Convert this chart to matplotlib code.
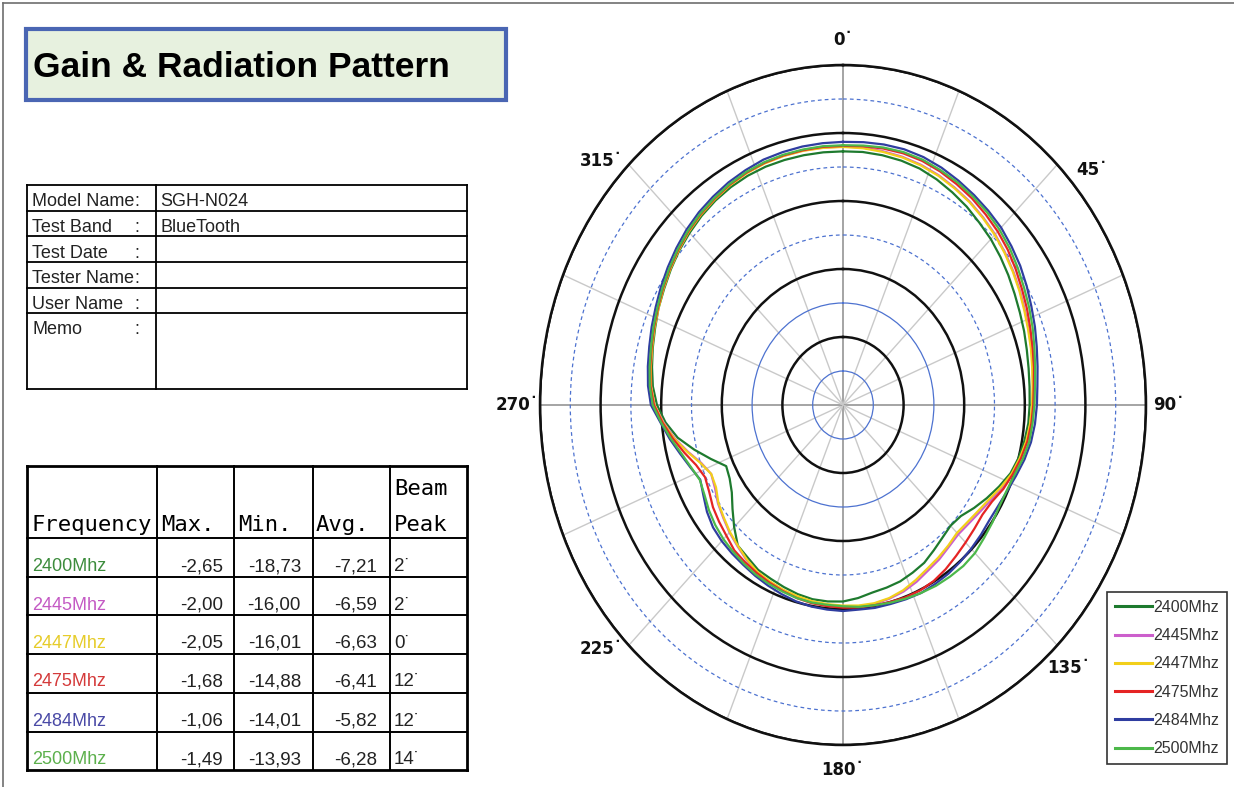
import numpy as np
import matplotlib
matplotlib.use('Agg')
import matplotlib.pyplot as plt
from matplotlib.lines import Line2D
from matplotlib.patches import Rectangle
from matplotlib import font_manager

W, H = 1234, 787

# ---------------- data ----------------
angles_deg = np.arange(0, 360, 5)

freqs = ['2400Mhz', '2445Mhz', '2447Mhz', '2475Mhz', '2484Mhz', '2500Mhz']
line_colors = ['#1e7a2e', '#cc5fcc', '#f2cf1a', '#e52424', '#2f3da0', '#4cb84a']
text_colors = ['#3c8c3c', '#c45ac4', '#e6cc2a', '#d43a3a', '#4a4aa6', '#5cb04c']

gain_2400 = [-2.7, -2.65, -2.7, -2.8, -3.0, -3.4, -3.9, -4.4, -5.0, -5.5,
             -6.1, -6.7, -7.3, -7.8, -8.2, -8.6, -8.9, -9.1, -9.2, -9.3,
             -9.6, -10.0, -10.6, -11.6, -12.6, -13.6, -14.6, -14.9, -14.5, -13.9,
             -13.2, -12.8, -12.4, -12.2, -12.0, -11.5, -11.1, -11.0, -11.0, -11.2,
             -11.5, -11.8, -12.0, -12.6, -13.0, -14.6, -16.2, -17.6, -18.4, -18.73,
             -16.8, -14.6, -12.3, -10.6, -9.3, -8.5, -8.0, -7.5, -7.0, -6.4,
             -5.9, -5.3, -4.7, -4.2, -3.7, -3.3, -3.0, -2.8, -2.7, -2.7,
             -2.7, -2.7]
gain_2445 = [-2.0, -2.0, -2.1, -2.2, -2.4, -2.7, -3.1, -3.5, -4.0, -4.5,
             -5.1, -5.7, -6.3, -6.9, -7.4, -7.8, -8.2, -8.5, -8.7, -8.9,
             -9.2, -9.7, -10.3, -11.1, -11.9, -12.5, -12.9, -13.1, -12.8, -12.3,
             -11.9, -11.3, -10.8, -10.5, -10.3, -10.3, -10.4, -10.5, -10.6, -10.8,
             -11.0, -11.3, -11.6, -12.2, -12.9, -13.5, -14.2, -14.8, -15.6, -16.0,
             -15.1, -13.5, -11.8, -10.3, -8.9, -8.2, -7.8, -7.3, -6.8, -6.3,
             -5.7, -5.1, -4.5, -3.9, -3.4, -3.0, -2.6, -2.3, -2.1, -2.05,
             -2.0, -2.0]
gain_2447 = [-2.05, -2.1, -2.2, -2.3, -2.5, -2.8, -3.2, -3.6, -4.1, -4.6,
             -5.2, -5.8, -6.4, -7.0, -7.5, -7.9, -8.3, -8.6, -8.8, -9.0,
             -9.3, -9.8, -10.4, -11.3, -12.2, -12.8, -13.2, -13.4, -13.0, -12.6,
             -12.2, -11.6, -11.0, -10.6, -10.4, -10.4, -10.5, -10.6, -10.7, -10.9,
             -11.1, -11.4, -11.7, -12.3, -13.0, -13.6, -14.3, -14.9, -15.8, -16.01,
             -15.0, -13.4, -11.7, -10.2, -8.9, -8.2, -7.8, -7.4, -6.9, -6.4,
             -5.8, -5.2, -4.6, -4.0, -3.5, -3.1, -2.7, -2.4, -2.2, -2.1,
             -2.05, -2.05]
gain_2475 = [-1.9, -1.8, -1.7, -1.68, -1.8, -2.1, -2.5, -2.9, -3.4, -3.9,
             -4.5, -5.2, -5.9, -6.5, -7.1, -7.6, -8.0, -8.4, -8.6, -8.8,
             -9.1, -9.6, -10.2, -10.8, -11.6, -11.9, -11.7, -11.4, -11.0, -10.5,
             -10.1, -9.9, -9.9, -10.0, -10.1, -10.1, -10.2, -10.3, -10.4, -10.6,
             -10.9, -11.2, -11.5, -11.8, -12.1, -12.8, -13.3, -13.8, -14.5, -14.88,
             -14.2, -12.9, -11.5, -10.1, -8.8, -8.1, -7.7, -7.3, -6.8, -6.3,
             -5.7, -5.1, -4.5, -3.9, -3.4, -3.0, -2.6, -2.3, -2.1, -2.0,
             -1.95, -1.9]
gain_2484 = [-1.3, -1.2, -1.1, -1.06, -1.2, -1.5, -1.9, -2.3, -2.7, -3.1,
             -3.7, -4.3, -5.0, -5.7, -6.3, -6.9, -7.4, -7.8, -8.0, -8.2,
             -8.5, -9.0, -9.6, -10.1, -10.4, -10.5, -10.3, -10.1, -9.9, -9.7,
             -9.6, -9.5, -9.6, -9.7, -9.7, -9.8, -9.7, -9.8, -9.9, -10.1,
             -10.4, -10.7, -11.0, -11.3, -11.5, -11.7, -12.0, -12.6, -13.4, -14.01,
             -13.2, -12.2, -11.0, -9.8, -8.3, -7.7, -7.3, -6.9, -6.4, -5.9,
             -5.3, -4.7, -4.1, -3.5, -3.0, -2.6, -2.2, -1.9, -1.6, -1.5,
             -1.4, -1.35]
gain_2500 = [-1.8, -1.7, -1.55, -1.49, -1.6, -1.9, -2.2, -2.6, -3.0, -3.5,
             -4.1, -4.8, -5.5, -6.1, -6.7, -7.3, -7.8, -8.2, -8.4, -8.6,
             -8.8, -9.3, -9.9, -10.2, -10.2, -9.9, -9.6, -9.2, -9.1, -9.2,
             -9.3, -9.5, -9.7, -9.9, -10.1, -10.2, -10.4, -10.5, -10.5, -10.6,
             -10.8, -11.0, -11.2, -11.5, -11.8, -12.1, -12.5, -13.0, -13.6, -13.93,
             -13.3, -12.4, -11.2, -9.9, -8.6, -8.0, -7.6, -7.2, -6.7, -6.2,
             -5.6, -5.0, -4.4, -3.8, -3.3, -2.9, -2.5, -2.2, -2.0, -1.9,
             -1.85, -1.8]
series = [gain_2400, gain_2445, gain_2447, gain_2475, gain_2484, gain_2500]

max_vals = [-2.65, -2.00, -2.05, -1.68, -1.06, -1.49]
min_vals = [-18.73, -16.00, -16.01, -14.88, -14.01, -13.93]
avg_vals = [-7.21, -6.59, -6.63, -6.41, -5.82, -6.28]
beam_peak = [2, 2, 0, 12, 12, 14]

info_labels = ['Model Name', 'Test Band', 'Test Date', 'Tester Name', 'User Name', 'Memo']
info_values = ['SGH-N024', 'BlueTooth', '', '', '', '']

r_ticks = np.arange(-35, 11, 5)
theta_ticks_deg = np.arange(0, 360, 22.5)
angle_labels = [0, 45, 90, 135, 180, 225, 270, 315]

# ---------------- fonts ----------------
names = {f.name for f in font_manager.fontManager.ttflist}
NARROW = 'Liberation Sans Narrow' if 'Liberation Sans Narrow' in names else 'Liberation Sans'
SANS = 'Liberation Sans'
MONO = 'DejaVu Sans Mono'

fig = plt.figure(figsize=(W / 100, H / 100), dpi=100)
fig.patch.set_facecolor('white')


def fx(x):
    return x / W


def fy(y):
    return 1 - y / H


def hline(x0, x1, y, lw=1.2, color='black'):
    fig.add_artist(Line2D([fx(x0), fx(x1)], [fy(y), fy(y)], transform=fig.transFigure,
                          color=color, lw=lw, solid_capstyle='projecting'))


def vline(x, y0, y1, lw=1.2, color='black'):
    fig.add_artist(Line2D([fx(x), fx(x)], [fy(y0), fy(y1)], transform=fig.transFigure,
                          color=color, lw=lw, solid_capstyle='projecting'))


# page border
hline(3, 1234, 3, lw=1.2, color='#6e6e6e')
vline(3, 3, 787, lw=1.2, color='#6e6e6e')

# ---------------- title box ----------------
fig.add_artist(Rectangle((fx(25.5), fy(99.5)), (506 - 25.5) / W, (99.5 - 29.5) / H,
                         transform=fig.transFigure, facecolor='#e7f1df',
                         edgecolor='#4a66b3', lw=3.0))
title_size = 30 if NARROW != SANS else 25.5
fig.text(fx(33), fy(77), 'Gain & Radiation Pattern', family=NARROW, fontweight='bold',
         fontsize=title_size, ha='left', va='baseline', color='black')

# ---------------- info table ----------------
info_x = [27, 156, 467]
info_y = [185, 210.5, 236, 261.5, 287.5, 312.5, 389]
for y in info_y:
    hline(info_x[0], info_x[-1], y, lw=1.3)
for x in info_x:
    vline(x, info_y[0], info_y[-1], lw=1.3)
for i, (lab, val) in enumerate(zip(info_labels, info_values)):
    base = info_y[i] + 21.5 if i < 5 else info_y[i] + 22
    fig.text(fx(32), fy(base), lab, family=SANS, fontsize=13, ha='left', va='baseline', color='#222')
    fig.text(fx(139.5), fy(base), ':', family=SANS, fontsize=13, ha='right', va='baseline', color='#222')
    if val:
        fig.text(fx(160), fy(base), val, family=SANS, fontsize=13, ha='left', va='baseline', color='#222')

# ---------------- frequency table ----------------
col_x = [27, 157, 234.5, 312.5, 390, 467]
row_y = [466, 538, 576.5, 615, 653.5, 692.5, 731.5, 770]
for j, y in enumerate(row_y):
    lw = 2.0 if j in (0, len(row_y) - 1) else 1.4
    hline(col_x[0], col_x[-1], y, lw=lw)
for j, x in enumerate(col_x):
    lw = 2.0 if j in (0, len(col_x) - 1) else 1.4
    vline(x, row_y[0], row_y[-1], lw=lw)
hdr_base = 531
hdr_kw = dict(family=MONO, fontsize=16, ha='left', va='baseline', color='black')
fig.text(fx(31), fy(hdr_base), 'Frequency', **hdr_kw)
fig.text(fx(161), fy(hdr_base), 'Max.', **hdr_kw)
fig.text(fx(238.5), fy(hdr_base), 'Min.', **hdr_kw)
fig.text(fx(316), fy(hdr_base), 'Avg.', **hdr_kw)
fig.text(fx(394), fy(495), 'Beam', **hdr_kw)
fig.text(fx(394), fy(hdr_base), 'Peak', **hdr_kw)


def fmt(v):
    return f'{v:.2f}'.replace('.', ',')


for i in range(len(freqs)):
    base = row_y[i + 1] + 33
    fig.text(fx(32), fy(base), freqs[i], family=SANS, fontsize=13, ha='left', va='baseline', color=text_colors[i])
    fig.text(fx(223), fy(base), fmt(max_vals[i]), family=SANS, fontsize=13.5, ha='right', va='baseline', color='#222')
    fig.text(fx(301), fy(base), fmt(min_vals[i]), family=SANS, fontsize=13.5, ha='right', va='baseline', color='#222')
    fig.text(fx(377), fy(base), fmt(avg_vals[i]), family=SANS, fontsize=13.5, ha='right', va='baseline', color='#222')
    fig.text(fx(394), fy(base), f'{beam_peak[i]}˙', family=SANS, fontsize=13.5, ha='left', va='baseline', color='#222')

# ---------------- polar chart ----------------
ax = fig.add_axes([fx(540), fy(745), 606 / W, 680 / H], projection='polar')
ax.set_aspect('auto')
ax.set_theta_zero_location('N')
ax.set_theta_direction(-1)

theta = np.deg2rad(np.append(angles_deg, angles_deg[0]))
for name, col, vals in zip(freqs, line_colors, series):
    v = np.append(vals, vals[0])
    ax.plot(theta, v, color=col, lw=1.6, label=name, zorder=3)

ax.set_ylim(-40, 10)
ax.set_yticks(r_ticks)
ax.set_yticklabels([])
ax.set_xticks(np.deg2rad(theta_ticks_deg))
ax.set_xticklabels([])
ax.tick_params(axis='x', length=0)
ax.grid(True)
for val, gl in zip(r_ticks, ax.yaxis.get_gridlines()):
    if val % 10 == 0:
        gl.set_color('#111111')
        gl.set_linewidth(1.8)
        gl.set_linestyle('-')
    elif val <= -25:
        gl.set_color('#4d72d0')
        gl.set_linewidth(0.9)
        gl.set_linestyle('-')
    else:
        gl.set_color('#4d72d0')
        gl.set_linewidth(0.9)
        gl.set_linestyle((0, (3, 2.5)))
for a, gl in zip(theta_ticks_deg, ax.xaxis.get_gridlines()):
    if a % 90 == 0:
        gl.set_color('#8c8c8c')
        gl.set_linewidth(1.1)
    else:
        gl.set_color('#c9c9c9')
        gl.set_linewidth(1.0)
    gl.set_linestyle('-')
ax.spines['polar'].set_color('#111111')
ax.spines['polar'].set_linewidth(1.8)

# angle labels, set slightly outside the outer ring (reference places the
# diagonal labels a few degrees toward the horizontal axis)
label_shift = {0: 0, 45: 5, 90: 0, 135: 1, 180: 0, 225: 3, 270: 0, 315: -3}
for a in angle_labels:
    ax.text(np.deg2rad(a + label_shift[a]), 13.7, f'{a}˙', ha='center', va='center',
            family='DejaVu Sans', fontweight='bold', fontsize=12, color='#111', clip_on=False)

leg = ax.legend(loc='upper left', bbox_to_anchor=(fx(1107), fy(592)), bbox_transform=fig.transFigure,
                frameon=True, fancybox=False, edgecolor='#333333', framealpha=1,
                prop={'family': NARROW, 'size': 11.5}, handlelength=2.3, handletextpad=0.1,
                labelspacing=0.83, borderpad=0.5, borderaxespad=0)
leg.get_frame().set_linewidth(1.2)
for t in leg.get_texts():
    t.set_color('#333333')
for h in leg.get_lines():
    h.set_linewidth(2.2)

fig.savefig('out.png', dpi=100)
